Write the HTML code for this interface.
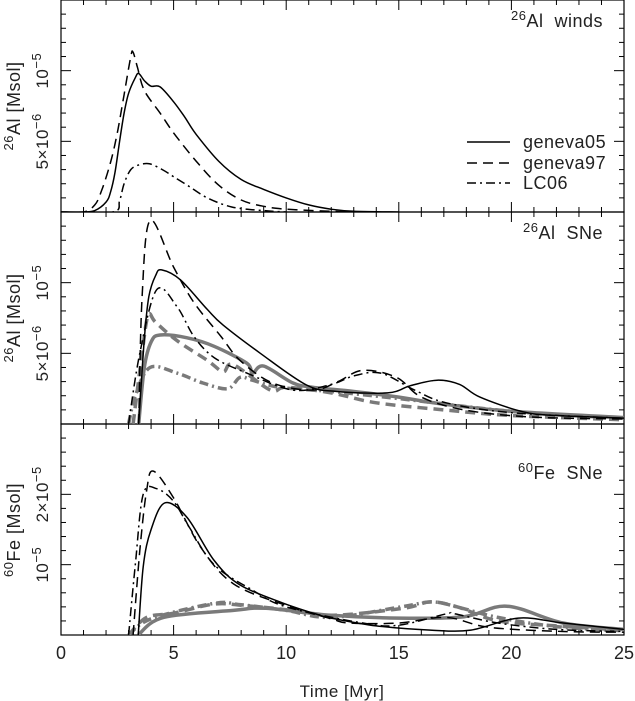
<!DOCTYPE html>
<html><head><meta charset="utf-8"><style>
html,body{margin:0;padding:0;background:#fff;}
svg{display:block;font-family:"Liberation Sans",sans-serif;}
</style></head><body>
<svg id="chart" width="635" height="701" viewBox="0 0 635 701" xmlns="http://www.w3.org/2000/svg"></svg>
<script>
// ---- data (time in Myr, mass in units of 1e-6 Msol) ----
const xTicks = [0, 5, 10, 15, 20, 25];
const panelNames = ["26Al winds", "26Al SNe", "60Fe SNe"];
// Top panel: 26Al winds
const windG05T = [0,1,1.5,2,2.2,2.4,2.6,2.8,3,3.3,3.45,3.7,4,4.4,5,5.5,6,7,8,9,10,11,12,13,15];
const windG05V = [0,0,0.1,0.7,1.4,2.8,5,7,8.4,9.5,9.8,9.3,8.9,8.85,7.8,6.7,5.5,3.6,2.3,1.6,1.0,0.5,0.2,0.05,0];
const windG97T = [0,1,1.5,1.8,2.2,2.5,2.8,3.1,3.2,3.4,3.7,4.4,5,6,7,8,9,10,12,14];
const windG97V = [0,0,0.5,1.5,3.5,5.6,8.3,11,11.3,10.2,8.6,7,5.6,3.6,1.9,0.85,0.4,0.2,0.05,0];
const windLCT = [0,2.3,2.6,2.8,3.1,3.5,3.95,4.5,5,5.7,6.5,7.6,9,10];
const windLCV = [0,0,0.8,2,3,3.35,3.4,3,2.5,1.8,1,0.35,0.1,0];
// Middle panel: 26Al SNe
const alG05T = [3.45,3.7,3.9,4.2,4.47,5.3,6.5,7.2,8.85,10.9,12.25,14.5,15.5,16.7,17.7,18.6,20.5,22,25];
const alG05V = [0,6,9,10.5,10.9,10.2,8.1,7.0,5.0,2.76,2.3,2.2,2.7,3.1,2.8,1.9,0.87,0.6,0.42];
const alG97T = [3.45,3.6,3.96,5.0,5.9,7.1,7.95,9.4,11.2,12.3,13.4,14.9,16,17.9,20.8,25];
const alG97V = [0,9,14.4,11.1,8.6,6.2,4.5,2.9,2.4,3.0,3.8,3.3,1.9,1.0,0.5,0.35];
const alLCT = [3.0,3.5,4.25,5.15,5.9,6.8,8.25,10.3,12,13,14.2,15.7,17.1,20,25];
const alLCV = [0,5,9.5,8.3,6.2,4.7,3.6,2.4,2.8,3.4,3.6,2.4,1.5,0.8,0.4];
const alG05gT = [3.45,3.7,4.0,4.4,5.6,6.8,8.25,8.5,9,10.3,11.2,13,15,17,20,25];
const alG05gV = [0,4,5.8,6.3,6.1,5.5,4.3,3.6,4.1,2.9,2.6,2.3,1.9,1.4,0.9,0.45];
const alG97gT = [3.2,3.6,3.87,4.2,5.15,6.5,7.2,7.65,9.3,10,12,14,17,20,25];
const alG97gV = [0,5,7.7,7.2,5.9,4.5,3.7,4.2,2.4,2.6,2.2,1.5,1.0,0.6,0.3];
const alLCgT = [3.0,3.3,3.95,5.15,6.3,7.4,7.95,8.5,9.7,12,15,20,25];
const alLCgV = [0,2,4.0,3.6,2.9,2.5,3.3,3.1,2.6,2.3,1.8,0.9,0.4];
// Bottom panel: 60Fe SNe
const feG05T = [3.43,3.65,4.0,4.62,5.6,6.8,7.96,9.9,11.5,12,14,16.4,18.2,20.3,22.3,25];
const feG05V = [0,9.7,15,18.8,16.7,10.6,7.1,4.5,2.8,2.4,1.3,0.7,0.7,2.4,1.7,0.8];
const feG97T = [3.2,3.5,3.8,4.1,5,6.2,7.65,10,12,12.8,15,17.1,19,22.3,25];
const feG97V = [0,12,20.5,23.3,19.5,12.5,7.3,4.2,2.3,1.7,1.7,2.5,1.1,0.5,0.4];
const feLCT = [3.0,3.3,3.65,4.25,5,5.7,6.8,8.5,10,13.4,15,17.1,17.5,19.4,22,25];
const feLCV = [0,10,20,20.8,19,15.3,10,6.4,4,1.7,1.4,3,3,1.7,0.8,0.5];
const feG05gT = [3.43,4.55,7.65,9.1,12,15,17.9,19.8,22.3,25];
const feG05gV = [0,2.5,3.5,3.8,2.8,2.4,2.6,4.1,1.7,0.8];
const feG97gT = [3.0,3.8,5,6.8,8.1,10,12,15.2,16.4,17.6,19.4,22,25];
const feG97gV = [0,2.5,3.1,4.4,4.2,3.6,2.8,3.8,4.7,4.0,2.0,1.3,0.7];
const feLCgT = [3.0,4,6.8,8,10,12,15.1,16.5,17.7,19.4,22,25];
const feLCgV = [0,2.3,4.5,4.3,3.5,2.5,4,4.7,3.9,2.5,1.2,0.6];

// ---- layout ----
const svg = document.getElementById('chart');
const NS = "http://www.w3.org/2000/svg";
const X0 = 61, X1 = 624;
const panels = [
  {top: 0, bot: 212, ymax: 15},
  {top: 212, bot: 424, ymax: 15},
  {top: 424, bot: 635, ymax: 30}
];
function sx(t){ return X0 + (t/25)*(X1-X0); }
function sy(p, v){ const P = panels[p]; return P.bot - (v/P.ymax)*(P.bot-P.top); }
function mk(tag, attrs, parent){ const e = document.createElementNS(NS, tag); for (const k in attrs) e.setAttribute(k, attrs[k]); (parent||svg).appendChild(e); return e; }

function curvePath(p, T, V){
  const pts = T.map((t,i)=>[sx(t), sy(p, V[i])]);
  let d = "M" + pts[0][0].toFixed(1) + "," + pts[0][1].toFixed(1);
  for (let i=0;i<pts.length-1;i++){
    const p0 = pts[Math.max(0,i-1)], p1 = pts[i], p2 = pts[i+1], p3 = pts[Math.min(pts.length-1,i+2)];
    const c1x = p1[0] + (p2[0]-p0[0])/6, c1y = p1[1] + (p2[1]-p0[1])/6;
    const c2x = p2[0] - (p3[0]-p1[0])/6, c2y = p2[1] - (p3[1]-p1[1])/6;
    d += " C" + c1x.toFixed(1)+","+c1y.toFixed(1)+" "+c2x.toFixed(1)+","+c2y.toFixed(1)+" "+p2[0].toFixed(1)+","+p2[1].toFixed(1);
  }
  return d;
}
const styles = { solid: "", dashed: "10,6", dashdot: "9,4,2,4" };

const defs = mk('defs', {});
panels.forEach((P,i)=>{
  const c = mk('clipPath', {id: 'clip'+i}, defs);
  mk('rect', {x: X0, y: P.top, width: X1-X0, height: P.bot-P.top}, c);
});

// frames + ticks
panels.forEach((P,i)=>{
  const g = mk('g', {});
  
  
  mk('rect', {x: X0, y: P.top, width: X1-X0, height: P.bot-P.top, fill: 'none', stroke: '#000', 'stroke-width': 1.2}, g);
  for (let t=0;t<=25;t++){
    const L = (t%5===0) ? 10 : 5;
    mk('line', {x1: sx(t), x2: sx(t), y1: P.bot, y2: P.bot-L, stroke: '#000', 'stroke-width': 1}, g);
    mk('line', {x1: sx(t), x2: sx(t), y1: P.top, y2: P.top+L, stroke: '#000', 'stroke-width': 1}, g);
  }
  const step = P.ymax/15;
  for (let k=1;k<15;k++){
    const v = k*step, y = sy(i, v);
    const L = (k%5===0) ? 10 : 5;
    mk('line', {x1: X0, x2: X0+L, y1: y, y2: y, stroke: '#000', 'stroke-width': 1}, g);
    mk('line', {x1: X1, x2: X1-L, y1: y, y2: y, stroke: '#000', 'stroke-width': 1}, g);
  }
});

// x tick labels
xTicks.forEach(t=>{
  const e = mk('text', {x: sx(t), y: 659, 'text-anchor': 'middle', 'font-size': 18, fill: '#222'});
  e.textContent = t;
  
  
});
const xt = mk('text', {x: 342, y: 697, 'text-anchor': 'middle', 'font-size': 17, fill: '#222', 'letter-spacing': 0.5});
xt.textContent = "Time [Myr]";



// y labels (rotated)
function yLabel(x, y, html, name, size){
  const e = mk('text', {x: x, y: y, 'text-anchor': 'middle', 'font-size': size||17, fill: '#222', 'letter-spacing': 0.5, transform: 'rotate(-90 '+x+' '+y+')'});
  e.innerHTML = html;
  
  
}
const sup = (s)=>'<tspan dy="-7" font-size="13">'+s+'</tspan><tspan dy="7">';
yLabel(48, sy(0,10), '10'+sup('−5')+'</tspan>', 'y-tick-label');
yLabel(48, sy(0,5), '5×10'+sup('−6')+'</tspan>', 'y-tick-label');
yLabel(48, sy(1,10), '10'+sup('−5')+'</tspan>', 'y-tick-label');
yLabel(48, sy(1,5), '5×10'+sup('−6')+'</tspan>', 'y-tick-label');
yLabel(48, sy(2,10), '10'+sup('−5')+'</tspan>', 'y-tick-label');
yLabel(48, sy(2,20), '2×10'+sup('−5')+'</tspan>', 'y-tick-label');
yLabel(20, 106, '<tspan dy="-7" font-size="13">26</tspan><tspan dy="7">Al  [Msol]</tspan>', 'y-axis-title', 18);
yLabel(20, 318, '<tspan dy="-7" font-size="13">26</tspan><tspan dy="7">Al  [Msol]</tspan>', 'y-axis-title', 18);
yLabel(20, 530, '<tspan dy="-7" font-size="13">60</tspan><tspan dy="7">Fe  [Msol]</tspan>', 'y-axis-title', 18);

// panel titles
[[27,'26','Al  winds'],[239,'26','Al  SNe'],[479,'60','Fe  SNe']].forEach((a,i)=>{
  const e = mk('text', {x: 603, y: a[0], 'text-anchor': 'end', 'font-size': 18, fill: '#222', 'letter-spacing': 0.5, 'xml:space': 'preserve'});
  e.setAttribute('style', 'white-space:pre');
  e.innerHTML = '<tspan dy="-7" font-size="13">'+a[1]+'</tspan><tspan dy="7">'+a[2]+'</tspan>';
  
  
});

// series
const g0 = mk('g', {'clip-path': 'url(#clip0)'});
const g1 = mk('g', {'clip-path': 'url(#clip1)'});
const g2 = mk('g', {'clip-path': 'url(#clip2)'});
function sIn(g, p, T, V, style, gray, name){
  const e = mk('path', {d: curvePath(p, T, V), fill: 'none',
    stroke: gray ? '#7a7a7a' : '#000', 'stroke-width': gray ? 3.5 : 1.5,
    'stroke-linejoin': 'round', 'stroke-dasharray': styles[style]}, g);
  
  
}
sIn(g0,0,windG05T,windG05V,'solid',false,'winds-geneva05-line');
sIn(g0,0,windG97T,windG97V,'dashed',false,'winds-geneva97-line');
sIn(g0,0,windLCT,windLCV,'dashdot',false,'winds-lc06-line');

sIn(g1,1,alG05gT,alG05gV,'solid',true,'al-sne-geneva05-gray-line');
sIn(g1,1,alG97gT,alG97gV,'dashed',true,'al-sne-geneva97-gray-line');
sIn(g1,1,alLCgT,alLCgV,'dashdot',true,'al-sne-lc06-gray-line');
sIn(g1,1,alG05T,alG05V,'solid',false,'al-sne-geneva05-line');
sIn(g1,1,alG97T,alG97V,'dashed',false,'al-sne-geneva97-line');
sIn(g1,1,alLCT,alLCV,'dashdot',false,'al-sne-lc06-line');

sIn(g2,2,feG05gT,feG05gV,'solid',true,'fe-sne-geneva05-gray-line');
sIn(g2,2,feG97gT,feG97gV,'dashed',true,'fe-sne-geneva97-gray-line');
sIn(g2,2,feLCgT,feLCgV,'dashdot',true,'fe-sne-lc06-gray-line');
sIn(g2,2,feG05T,feG05V,'solid',false,'fe-sne-geneva05-line');
sIn(g2,2,feG97T,feG97V,'dashed',false,'fe-sne-geneva97-line');
sIn(g2,2,feLCT,feLCV,'dashdot',false,'fe-sne-lc06-line');

// legend
const lg = mk('g', {});


[['geneva05','solid',142],['geneva97','dashed',163],['LC06','dashdot',183]].forEach(a=>{
  const ln = mk('line', {x1: 467, x2: 510, y1: a[2], y2: a[2], stroke: '#000', 'stroke-width': 1.5, 'stroke-dasharray': styles[a[1]]}, lg);
  
  
  const tx = mk('text', {x: 523, y: a[2]+6, 'font-size': 18, fill: '#222', 'letter-spacing': 0.5}, lg);
  tx.textContent = a[0];
  
  
});
</script>
</body></html>
